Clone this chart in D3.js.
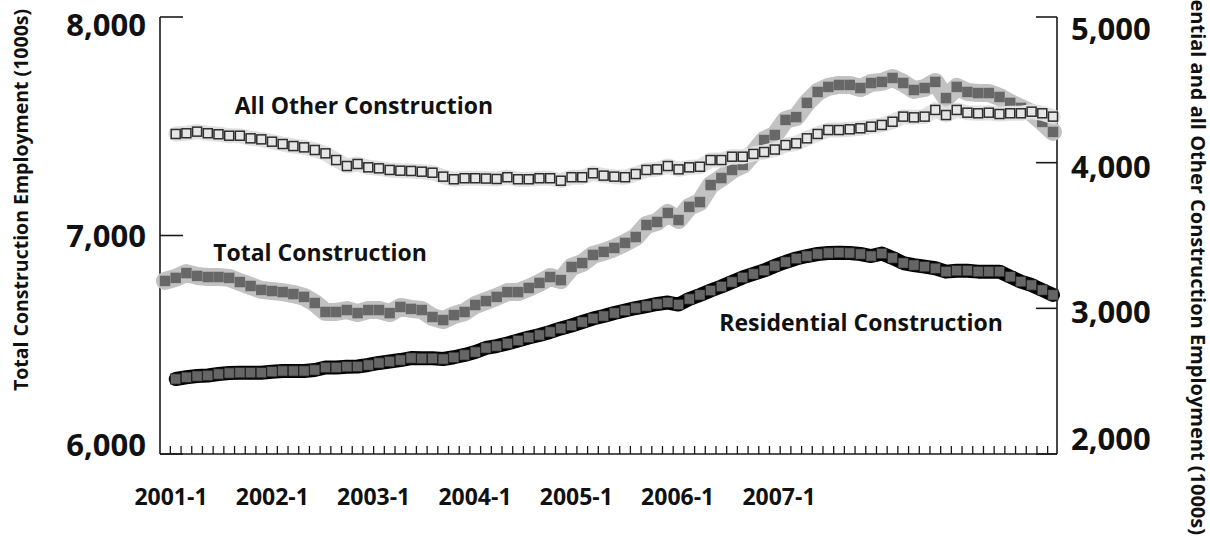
<!DOCTYPE html>
<html>
<head>
<meta charset="utf-8">
<script src="https://cdn.jsdelivr.net/npm/d3@7"></script>
<style>
  html, body { margin: 0; padding: 0; background: #fff; }
  svg { display: block; }
  text { font-family: "Open Sans", "Noto Sans", sans-serif; font-weight: 700; fill: #111; }
</style>
</head>
<body>
<svg id="chart" width="1210" height="540"></svg>
<script>
// ---- Categories: monthly, 2001-1 .. 2007-12 ----
const months = d3.range(84).map(i => `${2001 + Math.floor(i / 12)}-${(i % 12) + 1}`);
const xTickLabels = ["2001-1", "2002-1", "2003-1", "2004-1", "2005-1", "2006-1", "2007-1"];
const leftTicks = [6000, 7000, 8000];
const rightTicks = [2000, 3000, 4000, 5000];

// ---- Series (thousands) ----
// Total construction (left axis), 2001-1 .. 2007-12
const totalConstruction = [
  6792, 6806, 6828, 6815, 6810, 6810, 6806, 6787, 6769, 6751, 6746, 6741,
  6732, 6719, 6691, 6650, 6650, 6659, 6645, 6659, 6659, 6645, 6673, 6664,
  6659, 6627, 6613, 6636, 6650, 6682, 6700, 6719, 6741, 6741, 6760, 6783,
  6810, 6796, 6856, 6874, 6911, 6925, 6943, 6966, 6993, 7048, 7062, 7103,
  7071, 7131, 7153, 7231, 7263, 7300, 7323, 7378, 7437, 7460, 7529, 7542,
  7607, 7657, 7680, 7689, 7689, 7675, 7698, 7703, 7721, 7698, 7666, 7675,
  7703, 7629, 7680, 7657, 7652, 7652, 7634, 7607, 7584, 7561, 7520, 7474
];
// All other construction (right axis), starts 2001-2
const allOtherConstruction = [
  null, 4197, 4202, 4213, 4202, 4195, 4185, 4185, 4167, 4160, 4144, 4128,
  4114, 4105, 4087, 4064, 4018, 3977, 3991, 3968, 3961, 3950, 3945, 3943,
  3938, 3931, 3904, 3886, 3893, 3893, 3891, 3888, 3900, 3886, 3886, 3893,
  3893, 3876, 3900, 3900, 3927, 3911, 3904, 3900, 3922, 3950, 3954, 3977,
  3954, 3968, 3972, 4018, 4018, 4041, 4041, 4060, 4073, 4090, 4121, 4133,
  4167, 4197, 4224, 4224, 4229, 4236, 4247, 4259, 4281, 4316, 4311, 4316,
  4362, 4327, 4362, 4343, 4339, 4343, 4334, 4339, 4339, 4350, 4339, 4316
];
// Residential construction (right axis), starts 2001-2
const residentialConstruction = [
  null, 2515, 2527, 2535, 2539, 2549, 2556, 2558, 2558, 2558, 2565, 2570,
  2570, 2570, 2577, 2594, 2594, 2599, 2601, 2611, 2625, 2635, 2645, 2659,
  2657, 2657, 2652, 2664, 2680, 2700, 2728, 2741, 2759, 2779, 2800, 2817,
  2838, 2862, 2882, 2906, 2930, 2947, 2968, 2985, 3002, 3016, 3030, 3040,
  3026, 3064, 3092, 3122, 3150, 3181, 3212, 3236, 3260, 3291, 3318, 3342,
  3359, 3373, 3380, 3382, 3380, 3373, 3359, 3376, 3346, 3311, 3297, 3286,
  3275, 3252, 3258, 3258, 3252, 3252, 3252, 3217, 3183, 3160, 3126, 3092
];

const seriesLabels = {
  other: "All Other Construction",
  total: "Total Construction",
  residential: "Residential Construction"
};
const leftTitle = "Total Construction Employment (1000s)";
const rightTitle = "Residential and all Other Construction Employment (1000s)";

// ---- Layout ----
const plotLeft = 160, plotRight = 1057, plotTop = 17, plotBottom = 454;
const svg = d3.select("#chart");
svg.append("rect").attr("width", 1210).attr("height", 540).attr("fill", "#fff");

const x = d3.scalePoint().domain(months).range([165, 1053]);
const yL = d3.scaleLinear().domain([6000, 8000]).range([plotBottom, plotTop]);
const yR = d3.scaleLinear().domain([2000, 5000]).range([plotBottom, plotTop]);
const xLab = d3.scalePoint().domain(xTickLabels).range([171, 779]);

// ---- Axes ----
const axisG = svg.append("g").attr("stroke", "#1a1a1a").attr("stroke-width", 1.6).attr("fill", "none");
axisG.append("line").attr("x1", plotLeft).attr("x2", plotLeft).attr("y1", yL(8000)).attr("y2", yL(6000));
axisG.append("line").attr("x1", plotRight).attr("x2", plotRight).attr("y1", yR(5000)).attr("y2", yR(2000));
axisG.append("line").attr("x1", plotLeft).attr("x2", plotRight).attr("y1", plotBottom).attr("y2", plotBottom);

// month separator ticks
const sepTicks = d3.range(months.length - 1).map(i => (x(months[i]) + x(months[i + 1])) / 2);
axisG.selectAll(".mt").data(sepTicks).join("line")
  .attr("x1", d => d).attr("x2", d => d)
  .attr("y1", plotBottom).attr("y2", plotBottom - 8)
  .attr("stroke-width", 1.3);

// left ticks (inward)
axisG.selectAll(".lt").data(leftTicks).join("line")
  .attr("x1", plotLeft).attr("x2", plotLeft + 23)
  .attr("y1", d => yL(d)).attr("y2", d => yL(d));
// right ticks (inward)
axisG.selectAll(".rt").data(rightTicks).join("line")
  .attr("x1", plotRight - 21).attr("x2", plotRight)
  .attr("y1", d => yR(d)).attr("y2", d => yR(d));

const fmt = d3.format(",");
const clampY = y => Math.max(25, Math.min(445, y));
svg.selectAll(".ll").data(leftTicks).join("text")
  .attr("x", 146).attr("y", d => clampY(yL(d)))
  .attr("dy", "0.36em").attr("text-anchor", "end")
  .style("font-size", "31px").text(d => fmt(d));
svg.selectAll(".rl").data(rightTicks).join("text")
  .attr("x", 1071).attr("y", d => clampY(yR(d)) + (d === 2000 ? -6 : 4))
  .attr("dy", "0.36em").attr("text-anchor", "start")
  .style("font-size", "31px").text(d => fmt(d));

svg.selectAll(".xl").data(xTickLabels).join("text")
  .attr("x", d => xLab(d)).attr("y", 497)
  .attr("dy", "0.36em").attr("text-anchor", "middle")
  .style("font-size", "23px").text(d => d);

// axis titles
svg.append("text")
  .attr("transform", "translate(28,200) rotate(-90)")
  .attr("text-anchor", "middle").style("font-size", "19.5px").text(leftTitle);
svg.append("text")
  .attr("transform", "translate(1191,535) rotate(90)")
  .attr("text-anchor", "end").style("font-size", "20px").text(rightTitle);

// ---- Series ----
const lineL = d3.line().x((d, i) => x(months[i])).y(d => yL(d));
const lineR = d3.line().defined(d => d != null).x((d, i) => x(months[i])).y(d => yR(d));

// Total construction
svg.append("path").datum(totalConstruction).attr("d", lineL)
  .attr("fill", "none").attr("stroke", "#c2c2c2").attr("stroke-width", 18)
  .attr("stroke-linejoin", "round").attr("stroke-linecap", "round");
const sT = 10.5;
svg.selectAll(".ts").data(totalConstruction).join("rect")
  .attr("x", (d, i) => x(months[i]) - sT / 2).attr("y", d => yL(d) - sT / 2)
  .attr("width", sT).attr("height", sT).attr("fill", "#676767");

// All other construction
const otherPts = allOtherConstruction.map((v, i) => ({ v, m: months[i] })).filter(d => d.v != null);
svg.append("path").datum(allOtherConstruction).attr("d", lineR)
  .attr("fill", "none").attr("stroke", "#e1e1e1").attr("stroke-width", 15)
  .attr("stroke-linejoin", "round").attr("stroke-linecap", "round");
const sO = 9;
svg.selectAll(".os").data(otherPts).join("rect")
  .attr("x", d => x(d.m) - sO / 2).attr("y", d => yR(d.v) - sO / 2)
  .attr("width", sO).attr("height", sO)
  .attr("fill", "#e6e6e6").attr("stroke", "#2e2e2e").attr("stroke-width", 1.5);

// Residential construction
const resPts = residentialConstruction.map((v, i) => ({ v, m: months[i] })).filter(d => d.v != null);
svg.append("path").datum(residentialConstruction).attr("d", lineR)
  .attr("fill", "none").attr("stroke", "#000").attr("stroke-width", 14)
  .attr("stroke-linejoin", "round").attr("stroke-linecap", "round");
const sR = 10.2;
svg.selectAll(".rs").data(resPts).join("rect")
  .attr("x", d => x(d.m) - sR / 2).attr("y", d => yR(d.v) - sR / 2)
  .attr("width", sR).attr("height", sR)
  .attr("fill", "#666").attr("stroke", "#222").attr("stroke-width", 0.7);

// ---- Series labels ----
svg.append("text").attr("x", 364).attr("y", 106).attr("dy", "0.36em")
  .attr("text-anchor", "middle").style("font-size", "23px").text(seriesLabels.other);
svg.append("text").attr("x", 320).attr("y", 253).attr("dy", "0.36em")
  .attr("text-anchor", "middle").style("font-size", "23px").text(seriesLabels.total);
svg.append("text").attr("x", 861).attr("y", 323).attr("dy", "0.36em")
  .attr("text-anchor", "middle").style("font-size", "23px").text(seriesLabels.residential);
</script>
</body>
</html>
